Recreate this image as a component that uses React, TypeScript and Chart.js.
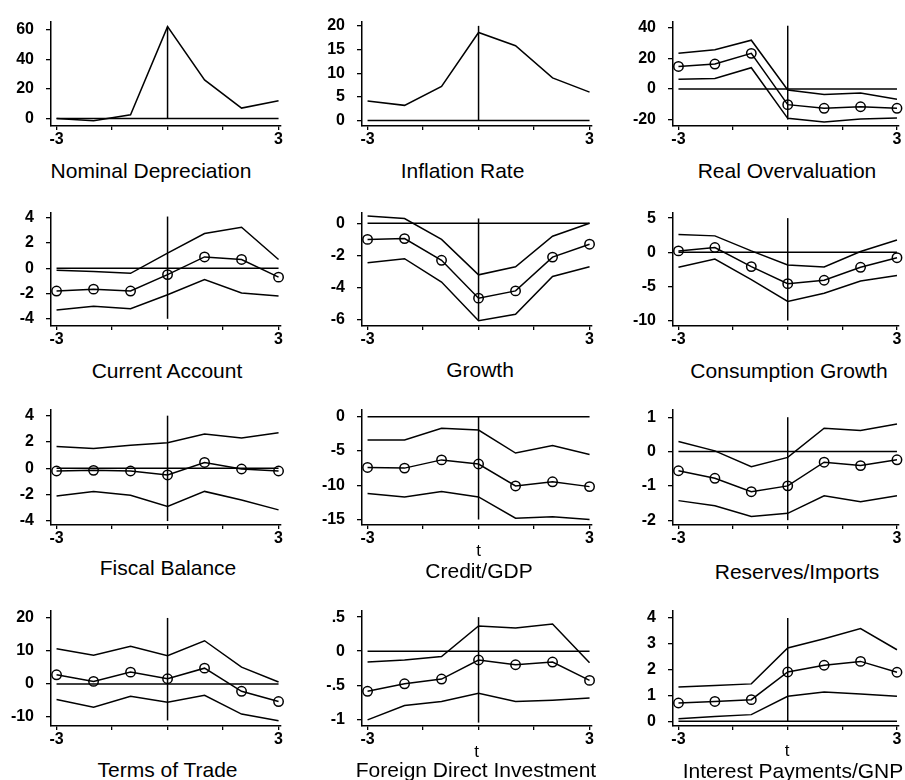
import React, { useEffect, useRef } from "react";
import { Chart, registerables } from "chart.js";

Chart.register(...registerables);

// ---------------- data ----------------
const years = [-3, -2, -1, 0, 1, 2, 3];
const xTickValues = [-3, -1.5, 0, 1.5, 3];
const xTickLabels = ["-3", "", "", "", "3"];

const titles = [
  "Nominal Depreciation", "Inflation Rate", "Real Overvaluation",
  "Current Account", "Growth", "Consumption Growth",
  "Fiscal Balance", "Credit/GDP", "Reserves/Imports",
  "Terms of Trade", "Foreign Direct Investment", "Interest Payments/GNP",
];
const xAxisTitle = "t";

const nominalDepreciation = [0, -1.5, 2.5, 62, 26, 7, 12];
const inflationRate = [4.1, 3.2, 7.2, 18.6, 15.8, 9.0, 6.0];

const realOverMean = [14.8, 16.4, 23.4, -10.2, -12.6, -11.6, -12.6];
const realOverUpper = [23.4, 25.8, 32, -0.6, -3.6, -2.6, -6.6];
const realOverLower = [6.4, 7, 14, -19.2, -21.6, -19.6, -19];

const currentMean = [-1.8, -1.65, -1.8, -0.5, 0.9, 0.7, -0.7];
const currentUpper = [-0.15, -0.25, -0.4, 1.2, 2.75, 3.25, 0.7];
const currentLower = [-3.3, -3.0, -3.2, -2.1, -0.9, -1.95, -2.2];

const growthMean = [-1.0, -0.95, -2.3, -4.65, -4.2, -2.1, -1.3];
const growthUpper = [0.45, 0.3, -1.0, -3.2, -2.7, -0.8, 0.0];
const growthLower = [-2.45, -2.2, -3.65, -6.05, -5.65, -3.3, -2.7];

const consumptionMean = [0.2, 0.7, -2.1, -4.6, -4.1, -2.2, -0.8];
const consumptionUpper = [2.6, 2.4, 0.2, -1.85, -2.15, 0.1, 1.8];
const consumptionLower = [-2.2, -1.0, -4.0, -7.2, -6.0, -4.2, -3.4];

const fiscalMean = [-0.2, -0.15, -0.2, -0.5, 0.45, -0.05, -0.2];
const fiscalUpper = [1.65, 1.5, 1.75, 1.95, 2.6, 2.3, 2.7];
const fiscalLower = [-2.1, -1.75, -2.05, -2.9, -1.75, -2.4, -3.15];

const creditMean = [-7.4, -7.5, -6.3, -6.9, -10.1, -9.5, -10.2];
const creditUpper = [-3.4, -3.4, -1.7, -1.95, -5.3, -4.2, -5.5];
const creditLower = [-11.2, -11.7, -10.9, -11.7, -14.8, -14.6, -15.0];

const reservesMean = [-0.56, -0.78, -1.17, -1.0, -0.31, -0.41, -0.24];
const reservesUpper = [0.29, 0.02, -0.44, -0.17, 0.68, 0.61, 0.8];
const reservesLower = [-1.43, -1.58, -1.89, -1.8, -1.29, -1.46, -1.29];

const totMean = [2.8, 0.8, 3.6, 1.6, 4.8, -2.2, -5.3];
const totUpper = [10.7, 8.7, 11.4, 8.6, 13.1, 5.1, 0.6];
const totLower = [-4.7, -7.0, -3.7, -5.5, -3.4, -9.1, -11.1];

const fdiMean = [-0.59, -0.48, -0.41, -0.13, -0.2, -0.16, -0.43];
const fdiUpper = [-0.16, -0.13, -0.08, 0.37, 0.34, 0.4, -0.17];
const fdiLower = [-1.01, -0.8, -0.74, -0.62, -0.74, -0.72, -0.69];

const interestMean = [0.71, 0.77, 0.84, 1.91, 2.17, 2.32, 1.9];
const interestUpper = [1.33, 1.39, 1.45, 2.84, 3.2, 3.59, 2.77];
const interestLower = [0.1, 0.19, 0.26, 0.97, 1.14, 1.06, 0.97];

// y tick values and labels per panel
const yTicks1 = [0, 20, 40, 60];
const yTicks2 = [0, 5, 10, 15, 20];
const yTicks3 = [-20, 0, 20, 40];
const yTicks4 = [-4, -2, 0, 2, 4];
const yTicks5 = [-6, -4, -2, 0];
const yTicks6 = [-10, -5, 0, 5];
const yTicks7 = [-4, -2, 0, 2, 4];
const yTicks8 = [-15, -10, -5, 0];
const yTicks9 = [-2, -1, 0, 1];
const yTicks10 = [-10, 0, 10, 20];
const yTicks11 = [-1, -0.5, 0, 0.5];
const yTickLabels11 = ["-1", "-.5", "0", ".5"];
const yTicks12 = [0, 1, 2, 3, 4];

// axis ranges per panel
const yMins = [-5.1, -1.16, -24.2, -4.57, -6.38, -10.8, -4.3, -15.8, -2.14, -12.7, -1.1, -0.18];
const yMaxs = [65.4, 20.9, 44.2, 4.38, 0.64, 5.75, 4.43, 0.98, 1.21, 22.1, 0.59, 4.27];
// vertical reference line at t = 0 (low, high)
const vLineLo = [0, 0, -20, -4, -6, -10, -4, -15, -2, -11, -1.05, 0];
const vLineHi = [62, 20, 41.5, 4.1, 0.3, 5, 4, 0, 1, 20, 0.5, 4];

// ---------------- layout ----------------
const COL_LEFT = [0, 300, 600];
const COL_RIGHT = [300, 600, 905];
const AXIS_X = [51, 362, 673];
const PLOT_W = 229.4;
const ROW_TOP = [0, 190, 385, 578];
const AREA_TOP = [12, 213, 410, 611];
const AREA_BOTTOM = [126, 326, 525, 726];
const X_AXIS_H = 30;
const X_MIN = -3.15;
const X_MAX = 3.05;
const TITLE_X = [151, 462.5, 787, 167, 480, 789, 168, 479, 797, 167.5, 476, 793];
const TITLE_Y = [169.5, 169.5, 170, 370, 369, 370, 567, 570, 571, 769, 768.5, 770];
const T_X = [0, 0, 0, 0, 0, 0, 0, 478.5, 0, 0, 476.5, 787];
const T_Y = [0, 0, 0, 0, 0, 0, 0, 550, 0, 0, 751, 750];

const FONT = "'Liberation Sans', Arial, Helvetica, sans-serif";
const INK = "#000";
const LINE_W = 1.5;

type Spec = {
  title: string;
  mean: number[];
  upper?: number[];
  lower?: number[];
  markers: boolean;
  yTicks: number[];
  yLabels: string[];
  showT: boolean;
};

const lbl = (a: number[]) => a.map((v) => String(v));

const specs: Spec[] = [
  { title: titles[0], mean: nominalDepreciation, markers: false, yTicks: yTicks1, yLabels: lbl(yTicks1), showT: false },
  { title: titles[1], mean: inflationRate, markers: false, yTicks: yTicks2, yLabels: lbl(yTicks2), showT: false },
  { title: titles[2], mean: realOverMean, upper: realOverUpper, lower: realOverLower, markers: true, yTicks: yTicks3, yLabels: lbl(yTicks3), showT: false },
  { title: titles[3], mean: currentMean, upper: currentUpper, lower: currentLower, markers: true, yTicks: yTicks4, yLabels: lbl(yTicks4), showT: false },
  { title: titles[4], mean: growthMean, upper: growthUpper, lower: growthLower, markers: true, yTicks: yTicks5, yLabels: lbl(yTicks5), showT: false },
  { title: titles[5], mean: consumptionMean, upper: consumptionUpper, lower: consumptionLower, markers: true, yTicks: yTicks6, yLabels: lbl(yTicks6), showT: false },
  { title: titles[6], mean: fiscalMean, upper: fiscalUpper, lower: fiscalLower, markers: true, yTicks: yTicks7, yLabels: lbl(yTicks7), showT: false },
  { title: titles[7], mean: creditMean, upper: creditUpper, lower: creditLower, markers: true, yTicks: yTicks8, yLabels: lbl(yTicks8), showT: true },
  { title: titles[8], mean: reservesMean, upper: reservesUpper, lower: reservesLower, markers: true, yTicks: yTicks9, yLabels: lbl(yTicks9), showT: false },
  { title: titles[9], mean: totMean, upper: totUpper, lower: totLower, markers: true, yTicks: yTicks10, yLabels: lbl(yTicks10), showT: false },
  { title: titles[10], mean: fdiMean, upper: fdiUpper, lower: fdiLower, markers: true, yTicks: yTicks11, yLabels: yTickLabels11, showT: true },
  { title: titles[11], mean: interestMean, upper: interestUpper, lower: interestLower, markers: true, yTicks: yTicks12, yLabels: lbl(yTicks12), showT: true },
];

const toPts = (vals: number[]) => years.map((x, i) => ({ x, y: vals[i] }));

function Panel({ spec, idx }: { spec: Spec; idx: number }) {
  const ref = useRef<HTMLCanvasElement | null>(null);
  const col = idx % 3;
  const row = Math.floor(idx / 3);
  const left = COL_LEFT[col];
  const top = ROW_TOP[row];
  const width = COL_RIGHT[col] - COL_LEFT[col];
  const height = AREA_BOTTOM[row] - top + X_AXIS_H;
  const yW = AXIS_X[col] - left;
  const padRight = COL_RIGHT[col] - (AXIS_X[col] + PLOT_W);
  const padTop = AREA_TOP[row] - top;

  useEffect(() => {
    if (!ref.current) return;
    const base = {
      borderColor: INK,
      borderWidth: LINE_W,
      pointRadius: 0,
      pointHoverRadius: 0,
      tension: 0,
      clip: false as any,
      fill: false,
    };
    const datasets: any[] = [
      { ...base, data: [{ x: -3, y: 0 }, { x: 3, y: 0 }] },
      { ...base, data: [{ x: 0, y: vLineLo[idx] }, { x: 0, y: vLineHi[idx] }] },
    ];
    if (spec.upper) datasets.push({ ...base, data: toPts(spec.upper) });
    if (spec.lower) datasets.push({ ...base, data: toPts(spec.lower) });
    datasets.push({
      ...base,
      data: toPts(spec.mean),
      pointRadius: spec.markers ? 4.7 : 0,
      pointHoverRadius: spec.markers ? 4.7 : 0,
      pointBorderWidth: LINE_W,
      pointBorderColor: INK,
      pointBackgroundColor: "rgba(0,0,0,0)",
      pointStyle: "circle",
    });

    const tickFont = { family: FONT, size: 16, weight: "bold" as const };
    const chart = new Chart(ref.current, {
      type: "line",
      data: { datasets },
      options: {
        responsive: false,
        animation: false,
        events: [],
        layout: { padding: { top: padTop, left: 0, right: padRight, bottom: 0 } },
        plugins: { legend: { display: false }, tooltip: { enabled: false }, title: { display: false } },
        scales: {
          x: {
            type: "linear",
            min: X_MIN,
            max: X_MAX,
            afterBuildTicks: (s: any) => {
              s.ticks = xTickValues.map((v) => ({ value: v }));
            },
            afterFit: (s: any) => {
              s.height = X_AXIS_H;
            },
            ticks: {
              autoSkip: false,
              maxRotation: 0,
              padding: 0,
              color: INK,
              font: tickFont,
              callback: (v: any) => {
                const i = xTickValues.indexOf(Number(v));
                return i >= 0 ? xTickLabels[i] : "";
              },
            },
            grid: { display: true, drawOnChartArea: false, drawTicks: true, tickLength: 4, color: INK, lineWidth: 1.3 },
            border: { display: true, color: INK, width: LINE_W },
          },
          y: {
            type: "linear",
            min: yMins[idx],
            max: yMaxs[idx],
            afterBuildTicks: (s: any) => {
              s.ticks = spec.yTicks.map((v) => ({ value: v }));
            },
            afterFit: (s: any) => {
              s.width = yW;
            },
            ticks: {
              autoSkip: false,
              padding: 12,
              color: INK,
              font: tickFont,
              callback: (v: any) => {
                const i = spec.yTicks.indexOf(Number(v));
                return i >= 0 ? spec.yLabels[i] : "";
              },
            },
            grid: { display: true, drawOnChartArea: false, drawTicks: true, tickLength: 5, color: INK, lineWidth: 1.3 },
            border: { display: true, color: INK, width: LINE_W },
          },
        },
      } as any,
    });
    return () => chart.destroy();
  }, []);

  return (
    <>
      <canvas
        ref={ref}
        width={width}
        height={height}
        style={{ position: "absolute", left, top, width, height }}
      />
      {spec.showT && (
        <div
          style={{
            position: "absolute",
            left: T_X[idx],
            top: T_Y[idx],
            transform: "translate(-50%, -50%)",
            fontFamily: FONT,
            fontSize: 17,
            lineHeight: 1,
            color: INK,
            whiteSpace: "nowrap",
          }}
        >
          {xAxisTitle}
        </div>
      )}
      <div
        style={{
          position: "absolute",
          left: TITLE_X[idx],
          top: TITLE_Y[idx],
          transform: "translate(-50%, -50%)",
          fontFamily: FONT,
          fontSize: 21,
          lineHeight: 1,
          color: INK,
          whiteSpace: "nowrap",
        }}
      >
        {spec.title}
      </div>
    </>
  );
}

export default function App() {
  return (
    <div
      style={{
        position: "absolute",
        left: 0,
        top: 0,
        width: 905,
        height: 780,
        background: "#fff",
        overflow: "hidden",
      }}
    >
      {specs.map((s, i) => (
        <Panel key={i} spec={s} idx={i} />
      ))}
    </div>
  );
}
